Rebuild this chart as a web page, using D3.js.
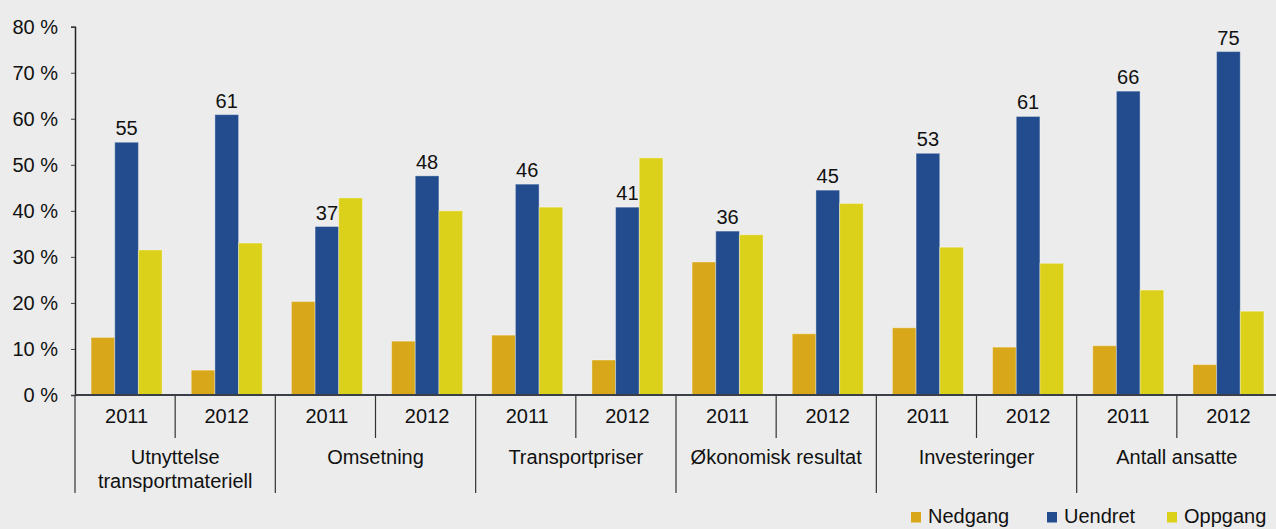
<!DOCTYPE html>
<html>
<head>
<meta charset="utf-8">
<script src="https://cdn.jsdelivr.net/npm/d3@7"></script>
<style>
  html, body { margin: 0; padding: 0; background: #ececec; }
  svg { display: block; font-family: "Liberation Sans", Arial, sans-serif; }
</style>
</head>
<body>
<div id="vis"></div>
<script>
// data
var categories = [
  ['Utnyttelse', 'transportmateriell'],
  ['Omsetning'],
  ['Transportpriser'],
  ['Økonomisk resultat'],
  ['Investeringer'],
  ['Antall ansatte']
];
var years = ['2011', '2012'];
var seriesNames = ['Nedgang', 'Uendret', 'Oppgang'];
var seriesColors = ['#d8a81a', '#234c8e', '#dcd11a'];

// one value for each category/year, in order
var nedgang = [12.5, 5.4, 20.3, 11.7, 13.0, 7.6, 28.9, 13.3, 14.6, 10.4, 10.7, 6.6];
var uendret = [54.9, 60.9, 36.6, 47.6, 45.8, 40.8, 35.6, 44.5, 52.5, 60.5, 66.0, 74.6];
var oppgang = [31.5, 33.0, 42.8, 40.0, 40.8, 51.5, 34.8, 41.6, 32.1, 28.6, 22.8, 18.2];

var yTicks = [0, 10, 20, 30, 40, 50, 60, 70, 80];

var width = 1276;
var height = 529;
var margin = { left: 75, right: -1, top: 26.7, axisY: 395 };

var svg = d3.select('#vis').append('svg')
  .attr('width', width)
  .attr('height', height);

svg.append('rect')
  .attr('width', width)
  .attr('height', height)
  .attr('fill', '#ececec');

// build the rows
var rows = [];
categories.forEach(function (c, ci) {
  years.forEach(function (yr, yi) {
    var i = ci * 2 + yi;
    rows.push({
      key: ci + '-' + yr,
      cat: ci,
      year: yr,
      values: [nedgang[i], uendret[i], oppgang[i]]
    });
  });
});

var y = d3.scaleLinear()
  .domain([0, 80])
  .range([margin.axisY, margin.top]);

var x0 = d3.scaleBand()
  .domain(rows.map(function (d) { return d.key; }))
  .range([margin.left, width - margin.right]);

var bw = x0.bandwidth();
var groupW = 71;
var x1 = d3.scaleBand()
  .domain(seriesNames)
  .range([(bw - groupW) / 2 + 1.5, (bw + groupW) / 2 + 1.5]);

// bars
var groups = svg.append('g').attr('class', 'bars')
  .selectAll('g')
  .data(rows)
  .join('g')
  .attr('transform', function (d) { return 'translate(' + x0(d.key) + ',0)'; });

groups.selectAll('rect')
  .data(function (d) { return d.values.map(function (v, i) { return { name: seriesNames[i], value: v, i: i }; }); })
  .join('rect')
  .attr('x', function (d) { return x1(d.name); })
  .attr('y', function (d) { return y(d.value); })
  .attr('width', x1.bandwidth())
  .attr('height', function (d) { return y(0) - y(d.value); })
  .attr('fill', function (d) { return seriesColors[d.i]; })
  .attr('stroke', 'rgba(255,255,255,0.35)')
  .attr('stroke-width', 1);

// labels over the blue bars
groups.append('text')
  .attr('x', x1('Uendret') + x1.bandwidth() / 2)
  .attr('y', function (d) { return y(d.values[1]) - 7; })
  .attr('text-anchor', 'middle')
  .attr('font-size', 20)
  .attr('fill', '#111')
  .text(function (d) { return Math.round(d.values[1]); });

// y axis
var yAxis = d3.axisLeft(y)
  .tickValues(yTicks)
  .tickSize(4)
  .tickPadding(13)
  .tickFormat(function (d) { return d + ' %'; });

var yG = svg.append('g')
  .attr('transform', 'translate(' + margin.left + ',0)')
  .call(yAxis);
yG.select('.domain').attr('stroke', '#222').attr('stroke-width', 1.5);
yG.selectAll('.tick line').attr('stroke', '#444');
yG.selectAll('.tick text')
  .attr('font-size', 20)
  .attr('fill', '#111')
  .attr('font-family', '"Liberation Sans", Arial, sans-serif');

// x axis line
var xg = svg.append('g').attr('class', 'x-axis');
xg.append('line')
  .attr('x1', margin.left).attr('x2', width)
  .attr('y1', y(0)).attr('y2', y(0))
  .attr('stroke', '#3a3f47')
  .attr('stroke-width', 2);

// year separators and category separators
rows.forEach(function (d) {
  var xs = x0(d.key);
  var isCatStart = d.year === years[0];
  xg.append('line')
    .attr('x1', xs).attr('x2', xs)
    .attr('y1', y(0)).attr('y2', isCatStart ? 493 : 438)
    .attr('stroke', '#333')
    .attr('stroke-width', 1.2);

  xg.append('text')
    .attr('x', xs + bw / 2 + 1.5)
    .attr('y', 423)
    .attr('text-anchor', 'middle')
    .attr('font-size', 20)
    .attr('fill', '#111')
    .text(d.year);
});

// category labels
categories.forEach(function (c, ci) {
  var cx = x0(ci + '-' + years[0]) + bw;
  var t = xg.append('text')
    .attr('x', cx)
    .attr('y', 464)
    .attr('text-anchor', 'middle')
    .attr('font-size', 20)
    .attr('fill', '#111');
  c.forEach(function (line, li) {
    t.append('tspan')
      .attr('x', cx)
      .attr('dy', li === 0 ? 0 : 24)
      .text(line);
  });
});

// legend (kept just inside the bottom edge)
var legendX = [911, 1047, 1167];
var legend = svg.append('g').attr('class', 'legend');
seriesNames.forEach(function (name, i) {
  legend.append('rect')
    .attr('x', legendX[i]).attr('y', 512)
    .attr('width', 10).attr('height', 10.5)
    .attr('fill', seriesColors[i]);
  legend.append('text')
    .attr('x', legendX[i] + 17)
    .attr('y', 523)
    .attr('font-size', 20)
    .attr('fill', '#111')
    .text(name);
});
</script>
</body>
</html>
